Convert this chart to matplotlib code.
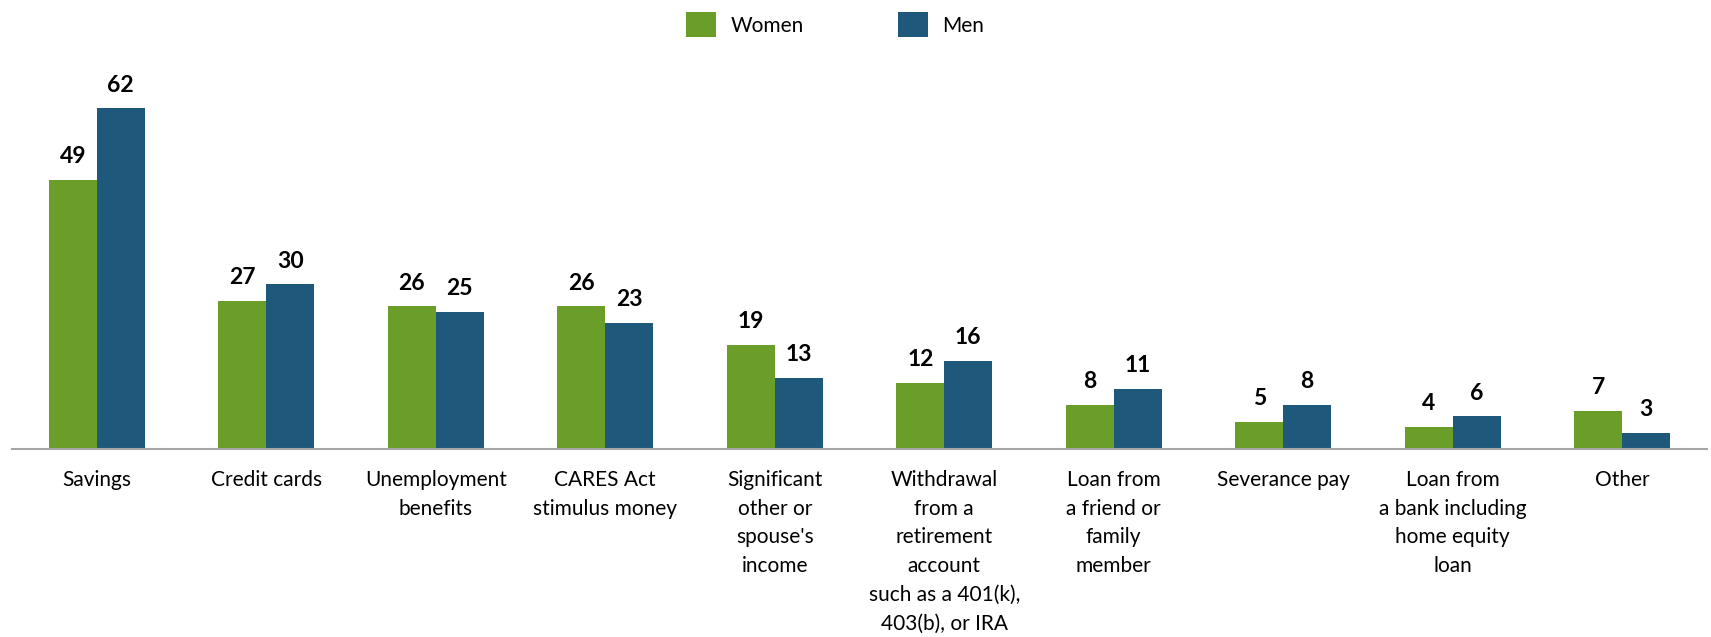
import numpy as np
import matplotlib.pyplot as plt

plt.rcParams['font.family'] = ['Lato', 'DejaVu Sans']

# dados
categorias = [
    'Savings',
    'Credit cards',
    'Unemployment\nbenefits',
    'CARES Act\nstimulus money',
    'Significant\nother or\nspouse\'s\nincome',
    'Withdrawal\nfrom a\nretirement\naccount\nsuch as a 401(k),\n403(b), or IRA',
    'Loan from\na friend or\nfamily\nmember',
    'Severance pay',
    'Loan from\na bank including\nhome equity\nloan',
    'Other',
]
women = [49, 27, 26, 26, 19, 12, 8, 5, 4, 7]
men = [62, 30, 25, 23, 13, 16, 11, 8, 6, 3]

cor_women = '#6A9E28'
cor_men = '#1E587A'

W, H = 1711, 637
fig = plt.figure(figsize=(W / 100, H / 100), dpi=100)
ax = fig.add_axes([12 / W, 188 / H, 1695 / W, 449 / H])

x = np.arange(len(categorias))
larg = 0.283

b1 = ax.bar(x - larg / 2, women, larg, color=cor_women, label='Women')
b2 = ax.bar(x + larg / 2, men, larg, color=cor_men, label='Men')

# rótulos de valor acima das barras
for barras in (b1, b2):
    for b in barras:
        ax.annotate(f'{b.get_height():g}',
                    (b.get_x() + b.get_width() / 2, b.get_height()),
                    xytext=(0, 9), textcoords='offset points',
                    ha='center', va='bottom', fontsize=16.5, fontweight='bold')

ax.set_xlim(-0.5, len(categorias) - 0.5)
ax.set_ylim(0, 449 / 5.5)

for s in ['top', 'right', 'left']:
    ax.spines[s].set_visible(False)
ax.spines['bottom'].set_color('#A6A6A6')
ax.spines['bottom'].set_linewidth(1.5)
ax.set_yticks([])
ax.set_xticks(x)
ax.set_xticklabels(categorias, fontsize=15, linespacing=1.55, va='top')
ax.tick_params(axis='x', length=0, pad=15)

fig.legend(handles=[b1, b2], labels=['Women', 'Men'], loc='upper center',
           bbox_to_anchor=(0.488, 1.01), ncol=2, frameon=False, fontsize=15,
           handlelength=1.45, handleheight=1.45, columnspacing=4.5,
           handletextpad=0.7)

fig.savefig('out.png', dpi=100)
